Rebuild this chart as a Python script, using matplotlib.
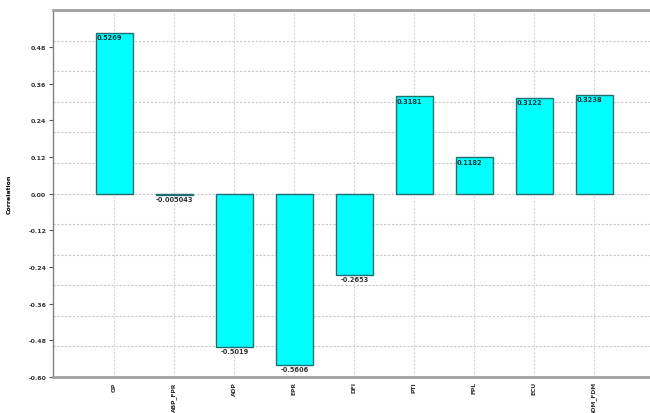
import matplotlib.pyplot as plt
import numpy as np

# Correlation of each factor
categories = ["OP", "ABP_FPR", "ADP", "EPR", "DFI", "PTI", "FPL", "ECU", "ADM_FDM"]
values = [0.5269, -0.005043, -0.5019, -0.5606, -0.2653, 0.3181, 0.1182, 0.3122, 0.3238]
value_labels = ["0.5269", "-0.005043", "-0.5019", "-0.5606", "-0.2653",
                "0.3181", "0.1182", "0.3122", "0.3238"]
y_ticks = [-0.60, -0.48, -0.36, -0.24, -0.12, 0.00, 0.12, 0.24, 0.36, 0.48]

fig = plt.figure(figsize=(6.5, 4.14), dpi=100)
ax = fig.add_axes([0.082, 0.087, 0.918, 0.886])

x = np.arange(len(categories))
width = 0.62
bars = ax.bar(x, values, width=width, color="#00ffff", edgecolor="#1f6f6f",
              linewidth=1.0, zorder=3)

# value labels: inside top-left for positive, below for negative
for xi, v, lab in zip(x, values, value_labels):
    if v > 0:
        ax.text(xi - width / 2 + 0.02, v - 0.004, lab, ha="left", va="top",
                fontsize=4.8, fontweight="bold", color="#003c3c", zorder=4)
    else:
        ax.text(xi, v - 0.004, lab, ha="center", va="top",
                fontsize=4.8, fontweight="bold", color="#333333", zorder=4)

ax.set_xlim(-1.02, 8.93)
ax.set_ylim(-0.60, 0.60)
ax.set_yticks(y_ticks)
ax.set_yticklabels([f"{t:.2f}" for t in y_ticks], fontsize=4.5, fontweight="bold",
                   color="#333333")
ax.set_xticks(x)
ax.set_xticklabels(categories, rotation=90, fontsize=4.3, fontweight="bold",
                   color="#333333", va="top")
ax.tick_params(axis="y", length=3, width=0.8, color="#555555", pad=2)
ax.tick_params(axis="x", length=0, pad=3)

# grid: horizontal every 0.1, vertical at each category
for gy in np.arange(-0.5, 0.51, 0.1):
    ax.axhline(gy, color="#c8c8c8", linestyle=(0, (2, 1.5)), linewidth=0.8, zorder=1)
for gx in x:
    ax.axvline(gx, color="#d6d6d6", linestyle=(0, (2, 1.5)), linewidth=0.8, zorder=1)

ax.set_ylabel("Correlation", fontsize=4.5, fontweight="bold", labelpad=12)

for side in ["top", "bottom"]:
    ax.spines[side].set_color("#a0a0a0")
    ax.spines[side].set_linewidth(2.0)
ax.spines["left"].set_color("#808080")
ax.spines["left"].set_linewidth(1.0)
ax.spines["right"].set_visible(False)

fig.savefig("out.png", dpi=100)
